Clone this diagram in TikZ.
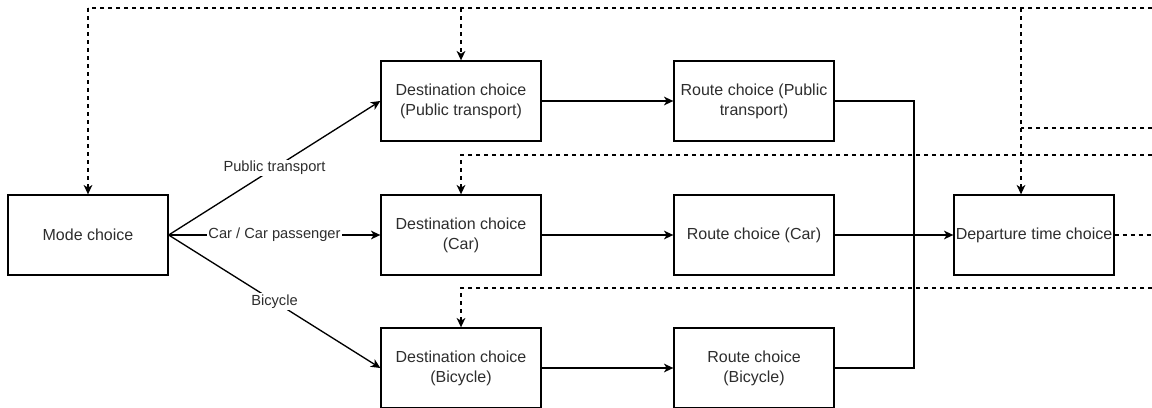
\documentclass[tikz,border=0pt]{standalone}
\usepackage{fontspec}
\setmainfont{Liberation Sans}
\usetikzlibrary{arrows.meta}
\definecolor{txt}{RGB}{45,45,45}
\begin{document}
\begin{tikzpicture}[x=0.75pt,y=-0.75pt,
  box/.style={draw, line width=1pt, minimum width=120pt, minimum height=60pt, align=center,
    font=\fontsize{12}{15}\selectfont, text=txt, inner sep=0pt},
  arr/.style={line width=1pt, -{Stealth[length=7pt,width=6.5pt,inset=2pt]}},
  dsh/.style={arr, dash pattern=on 3pt off 3pt},
  dln/.style={line width=1pt, dash pattern=on 3pt off 3pt},
  ln/.style={line width=1pt},
  lbl/.style={fill=white, font=\fontsize{11}{13}\selectfont, text=txt, inner sep=1pt}]
\useasboundingbox (0,0) rectangle (1152,407);

\node[box] (mode) at (88,235) {Mode choice};
\node[box] (dpt) at (461,101) {Destination choice\\(Public transport)};
\node[box] (rpt) at (754,101) {Route choice (Public\\transport)};
\node[box] (dcar) at (461,235) {Destination choice\\(Car)};
\node[box] (rcar) at (754,235) {Route choice (Car)};
\node[box] (dep) at (1034,235) {Departure time choice};
\node[box] (dbike) at (461,368) {Destination choice\\(Bicycle)};
\node[box] (rbike) at (754,368) {Route choice\\(Bicycle)};

% free ends at the right edge and junctions
\coordinate (e1) at (1152,8);
\coordinate (e2) at (1152,128);
\coordinate (e3) at (1152,155);
\coordinate (e4) at (1152,235);
\coordinate (e5) at (1152,288);
\coordinate (top) at (88,8);
\coordinate (jx) at (1021,128);
\coordinate (jr) at (914,101);

% solid connectors from mode choice
\draw[arr] (mode.east) -- node[lbl] {Public transport} (dpt.west);
\draw[arr] (mode.east) -- node[lbl] {Car / Car passenger} (dcar.west);
\draw[arr] (mode.east) -- node[lbl] {Bicycle} (dbike.west);

\draw[arr] (dpt) -- (rpt);
\draw[arr] (dcar) -- (rcar);
\draw[arr] (dbike) -- (rbike);

\draw[ln] (rpt.east) -- (jr) |- (rbike.east);
\draw[arr] (rcar) -- (dep);

% dashed feedback lines
\draw[dln] (e1) -- (top);
\draw[dsh] (top) -- (mode.north);
\draw[dsh] (dpt.north |- e1) -- (dpt.north);
\draw[dsh] (jx |- e1) -- (jx |- dep.north);
\draw[dln] (e2) -- (jx);
\draw[dsh] (e3) -| (dcar.north);
\draw[dsh] (e5) -| (dbike.north);
\draw[dln] (dep.east) -- (e4);
\end{tikzpicture}
\end{document}
